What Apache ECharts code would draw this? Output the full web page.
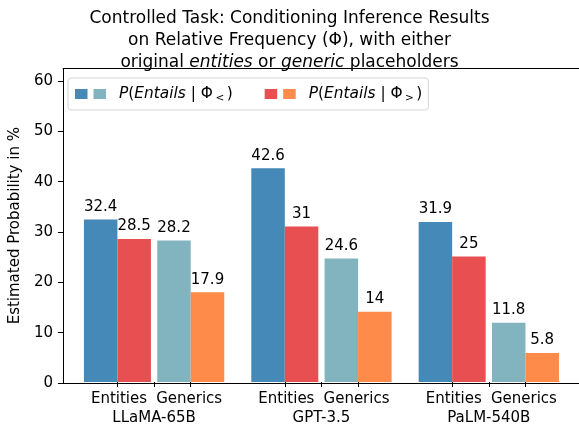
<!DOCTYPE html>
<html><head><meta charset="utf-8">
<script src="https://cdn.jsdelivr.net/npm/echarts@6/dist/echarts.min.js"></script>
<style>html,body{margin:0;padding:0;background:#fff}#c{width:579px;height:428px}</style>
</head><body><div id="c"></div>
<script>
const models = ['LLaMA-65B', 'GPT-3.5', 'PaLM-540B'];
const subLabels = ['Entities', 'Generics'];
const entitiesLess = [32.4, 42.6, 31.9];
const entitiesGreater = [28.5, 31, 25];
const genericsLess = [28.2, 24.6, 11.8];
const genericsGreater = [17.9, 14, 5.8];
const yTicks = [0, 10, 20, 30, 40, 50, 60];
const yMax = 62.5;

const F = 'DejaVu Sans';
const colors = { el: '#4589b8', eg: '#e84f50', gl: '#82b4c0', gg: '#fe8b49' };
const barW = 33.5, gapW = 6.3;
const gridL = 70.4, gridR = 6.5;
const catW = (579 - gridL - gridR) / models.length;
const off = (barW + gapW / 2) / catW;
const pairTicks = [];
models.forEach((m, i) => { pairTicks.push(i + 0.5 - off, i + 0.5 + off); });

const lblStyle = { show: true, position: 'top', distance: 5, fontSize: 15, color: '#000', fontFamily: F };
function bar(name, data, color, w) {
  return { type: 'bar', name, data, xAxisIndex: 0, yAxisIndex: 0, barWidth: w, barGap: '0%',
    itemStyle: { color }, label: lblStyle, emphasis: { disabled: true } };
}

const LF = 15.4;
const chart = echarts.init(document.getElementById('c'), null, { renderer: 'canvas' });
chart.setOption({
  animation: false,
  title: {
    text: 'Controlled Task: Conditioning Inference Results\non Relative Frequency (Φ), with either\noriginal {it|entities} or {it|generic} placeholders',
    left: 'center', top: 2.5,
    textStyle: { fontFamily: F, fontSize: 17, fontWeight: 'normal', color: '#000', lineHeight: 22,
      rich: { it: { fontFamily: F, fontSize: 17, fontStyle: 'italic', color: '#000', lineHeight: 22 } } }
  },
  legend: {
    data: ['E<', 'G<', 'E>', 'G>'], left: 68, top: 78, orient: 'horizontal',
    itemWidth: 12.5, itemHeight: 10, itemGap: 1, icon: 'rect',
    padding: [6, 6, 6, 7], borderColor: '#d4d4d4', borderWidth: 1, borderRadius: 3,
    selectedMode: false,
    formatter: function (name) {
      if (name === 'G<') return '{a|P}{n|(}{it|Entails}{n| | Φ}{sub|<}{n|)}{gap|}';
      if (name === 'G>') return '{a|P}{n|(}{it|Entails}{n| | Φ}{sub|>}{n|)}';
      return '';
    },
    textStyle: { fontFamily: F, fontSize: LF, color: '#000', lineHeight: 20,
      rich: {
        a: { fontFamily: F, fontSize: LF, fontStyle: 'italic', color: '#000', padding: [0, 0, 0, 8], lineHeight: 20 },
        it: { fontFamily: F, fontSize: LF, fontStyle: 'italic', color: '#000', lineHeight: 20 },
        n: { fontFamily: F, fontSize: LF, color: '#000', lineHeight: 20 },
        sub: { fontFamily: F, fontSize: 10.5, color: '#000', verticalAlign: 'bottom', lineHeight: 13, padding: [0, 2.5, 0, 2.5] },
        gap: { width: 31 }
      } }
  },
  grid: [
    { left: gridL, right: gridR, top: 68.4, bottom: 45 },
    { left: 61, right: 0, top: 68.4, bottom: 45 }
  ],
  xAxis: [
    { type: 'category', gridIndex: 0, data: models, position: 'bottom',
      axisLine: { show: false },
      axisTick: { show: true, alignWithLabel: true, length: 5, lineStyle: { color: '#000', width: 1 } },
      axisLabel: { margin: 8, interval: 0, color: '#000', fontFamily: F, fontSize: 15, lineHeight: 19,
        formatter: function (v) { return '{e|' + subLabels[0] + '}{g|' + subLabels[1] + '}\n{m|' + v + '}'; },
        rich: {
          e: { width: barW * 2 + gapW / 2, align: 'center', fontFamily: F, fontSize: 15, color: '#000', lineHeight: 19 },
          g: { width: barW * 2 + gapW / 2, align: 'center', fontFamily: F, fontSize: 15, color: '#000', lineHeight: 19 },
          m: { fontFamily: F, fontSize: 15, color: '#000', lineHeight: 19 }
        } },
      splitLine: { show: false } },
    { type: 'value', gridIndex: 0, min: 0, max: models.length, position: 'bottom',
      axisLine: { show: false }, splitLine: { show: false }, axisLabel: { show: false },
      axisTick: { show: true, length: 5, customValues: pairTicks, lineStyle: { color: '#000', width: 1 } } },
    { type: 'value', gridIndex: 1, min: 0, max: 1, position: 'bottom',
      axisLine: { show: true, lineStyle: { color: '#000', width: 1 } }, axisTick: { show: false },
      axisLabel: { show: false }, splitLine: { show: false } },
    { type: 'value', gridIndex: 1, min: 0, max: 1, position: 'top',
      axisLine: { show: true, lineStyle: { color: '#000', width: 1 } }, axisTick: { show: false },
      axisLabel: { show: false }, splitLine: { show: false } }
  ],
  yAxis: [
    { type: 'value', gridIndex: 0, min: 0, max: yMax, show: false, splitLine: { show: false } },
    { type: 'value', gridIndex: 1, min: 0, max: yMax, position: 'left',
      axisLine: { show: true, lineStyle: { color: '#000', width: 1 } },
      axisTick: { show: true, length: 5, customValues: yTicks, lineStyle: { color: '#000', width: 1 } },
      axisLabel: { customValues: yTicks, fontFamily: F, fontSize: 15, color: '#000', margin: 10 },
      splitLine: { show: false },
      name: 'Estimated Probability in %', nameLocation: 'middle', nameGap: 35,
      nameTextStyle: { fontFamily: F, fontSize: 15, color: '#000' } }
  ],
  series: [
    bar('E<', entitiesLess, colors.el, barW),
    bar('E>', entitiesGreater, colors.eg, barW),
    { type: 'bar', name: 'spacer', data: models.map(() => '-'), xAxisIndex: 0, yAxisIndex: 0, barWidth: gapW, barGap: '0%', silent: true },
    bar('G<', genericsLess, colors.gl, barW),
    bar('G>', genericsGreater, colors.gg, barW)
  ]
});
</script></body></html>
